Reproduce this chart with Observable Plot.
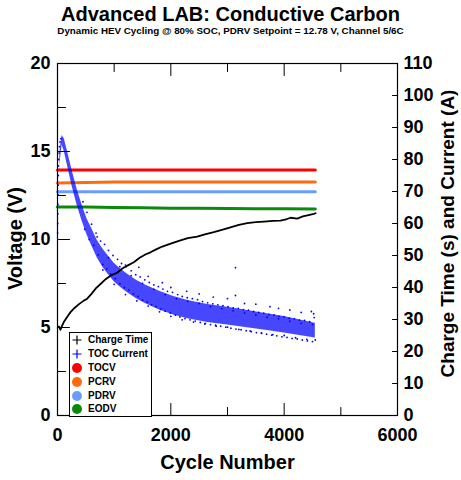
<!DOCTYPE html>
<html><head><meta charset="utf-8">
<script src="https://cdn.jsdelivr.net/npm/d3@7"></script>
<script src="https://cdn.jsdelivr.net/npm/@observablehq/plot@0.6"></script>
<style>
body{margin:0;background:#fff;font-family:"Liberation Sans",Arial,sans-serif;color:#000;}
#wrap{position:relative;width:461px;height:480px;overflow:hidden;}
#head{position:relative;height:45px;}
#title{position:absolute;left:0;width:461px;top:4px;text-align:center;font-weight:bold;font-size:20px;line-height:20px;white-space:nowrap;}
#sub{position:absolute;left:0;width:461px;top:26px;text-align:center;font-weight:bold;font-size:9.8px;line-height:10px;white-space:nowrap;}
#legend{position:absolute;left:69px;top:332px;width:81px;height:83px;border:1px solid #000;background:#fff;font-weight:bold;font-size:10px;}
.row{position:absolute;left:0;width:81px;height:14px;}
.row svg{position:absolute;left:1px;top:1px;}
.row span{position:absolute;left:18px;top:0;line-height:14px;white-space:nowrap;}
#chart svg{display:block;}
</style>
</head><body>
<div id="wrap">
  <div id="head">
    <div id="title">Advanced LAB: Conductive Carbon</div>
    <div id="sub">Dynamic HEV Cycling @ 80% SOC, PDRV Setpoint = 12.78 V, Channel 5/6C</div>
  </div>
  <div id="chart"></div>
  <div id="legend"></div>
</div>
<script>
// ---- data ----
const xTickLabels = [0, 2000, 4000, 6000];
const xTicksAll = [0, 1000, 2000, 3000, 4000, 5000, 6000];
const yTickLabels = [0, 5, 10, 15, 20];
const yTicksAll = [0, 2.5, 5, 7.5, 10, 12.5, 15, 17.5, 20];
const rightTicks = [0, 10, 20, 30, 40, 50, 60, 70, 80, 90, 100, 110];
const rightMax = 110;

// voltage lines (V)
const lineCycle = [0, 500, 1000, 1500, 2000, 2500, 3000, 3500, 4000, 4550];
const tocv = [13.95, 13.95, 13.95, 13.95, 13.95, 13.95, 13.95, 13.95, 13.95, 13.95];
const pcrv = [13.21, 13.24, 13.26, 13.27, 13.27, 13.27, 13.27, 13.27, 13.27, 13.27];
const pdrv = [12.71, 12.71, 12.71, 12.71, 12.71, 12.71, 12.71, 12.71, 12.71, 12.71];
const eodv = [11.85, 11.84, 11.82, 11.80, 11.78, 11.77, 11.76, 11.75, 11.75, 11.74];

// charge time (s)
const chargeCycle = [5, 25, 53, 80, 111, 170, 230, 300, 380, 465, 524, 600, 680, 760, 850, 935, 1053, 1150, 1250, 1347, 1450, 1550, 1641, 1750, 1850, 1935, 2050, 2171, 2300, 2465, 2600, 2759, 2900, 3053, 3200, 3348, 3500, 3641, 3800, 3936, 4050, 4112, 4230, 4330, 4430, 4524, 4555];
const chargeTime = [27.6, 27.8, 26.8, 28.0, 29.2, 30.8, 32.3, 33.6, 34.8, 35.9, 36.5, 38.0, 39.8, 41.1, 42.6, 43.7, 44.6, 46.0, 47.0, 47.9, 49.3, 50.3, 51.0, 52.0, 52.8, 53.3, 54.0, 54.7, 55.4, 55.9, 56.6, 57.3, 58.0, 58.8, 59.6, 60.1, 60.4, 60.6, 60.8, 60.9, 61.4, 61.8, 61.5, 62.2, 62.6, 63.0, 63.2];

// TOC current dense core (A): lower / upper edge
const bandCycle = [40, 80, 120, 170, 260, 350, 440, 520, 610, 700, 800, 900, 1000, 1100, 1230, 1400, 1550, 1800, 2050, 2300, 2650, 3000, 3350, 3700, 4000, 4300, 4550];
const bandLo = [78, 84.5, 82.5, 78.5, 71.5, 65.5, 60.5, 56.5, 52.8, 49.3, 46.3, 44, 41.8, 40.2, 38.4, 36.4, 35, 33, 31.4, 30.2, 29.1, 28.3, 27.4, 26.6, 25.8, 24.9, 24.2];
const bandHi = [82, 87.5, 86.5, 83, 76.5, 70.5, 65.5, 61.5, 58.2, 54.8, 52, 49.8, 47.6, 46, 44.2, 42.2, 40.8, 38.8, 37.2, 35.9, 34.7, 33.8, 32.8, 31.8, 30.9, 29.8, 28.8];

// TOC current scattered points [cycle, A]
const tocScatter = [
  [2,57],[4,60],[6,63],[8,66],[10,69],[12,72],[14,75],[18,78],[22,80],[28,82],[35,84],[45,85.5],[60,86.5],
  [450,66.8],[480,58.2],[520,63.5],[560,55],[600,59.8],[640,53.2],[680,57],[720,50.2],[760,54.5],[800,47.2],
  [830,53.5],[870,45.8],[900,51.6],[940,44.2],[980,50],[1020,42.8],[1060,48.8],[1100,41.2],[1130,47.5],[1180,40],
  [1210,46.5],[1260,39.2],[1300,45.2],[1340,38],[1380,44],[1420,37.2],[1460,43.3],[1500,36.1],[1540,42.4],[1580,35.5],
  [1620,41.6],[1660,34.6],[1700,40.8],[1740,34],[1780,40.3],[1820,33.2],[1860,39.5],[1900,32.6],[1940,38.8],[1990,32],
  [2030,38.5],[2080,31.4],[2120,37.8],[2160,30.8],[2200,37.2],[2250,30.3],[2290,36.8],[2340,29.9],[2380,36.5],[2430,29.5],
  [2470,36.2],[2520,29.1],[2560,35.6],[2610,28.8],[2650,35.2],[2700,28.4],[2740,34.9],[2790,28.2],[2830,34.6],[2880,27.9],
  [2920,34.3],[2970,27.6],[3010,34],[3060,27.3],[3100,33.6],[3150,27],[3190,33.5],[3240,26.8],[3280,33.1],[3330,26.5],
  [3370,32.9],[3420,26.2],[3460,32.5],[3510,25.9],[3550,32.2],[3600,25.7],[3640,32],[3690,25.4],[3730,31.6],[3780,25.1],
  [3820,31.4],[3870,24.9],[3910,31],[3960,24.6],[4000,30.8],[4050,24.4],[4090,30.4],[4140,24.1],[4180,30.2],[4230,23.9],
  [4270,29.8],[4320,23.6],[4360,29.7],[4410,23.3],[4450,29.3],[4500,23.1],[4530,30.6],[4550,23.6],
  [1200,47],[1435,46.3],[1600,43.5],[1850,41.5],[2000,40],[2280,38.8],[2500,38],[2750,37],[3000,36.5],[3141,46.2],
  [3141,37.5],[3300,35],[3500,34.8],[3750,34],[3900,33.5],[4100,33],[4300,32.2],[4480,32.5],[4520,31.8],
  [700,55.8],[900,49.3],[1100,46.5],[1300,43.7],[1500,41.3],[1700,39.4],[1900,37.8],[2100,36.5],[2300,35.7],[2500,35],
  [2700,34.1],[2900,33.4],[3100,32.7],[3300,32],[3500,31.4],[3700,30.7],[3900,30.2],[4100,29.4],[4300,28.8],[4500,28.4],
  [800,45.5],[1000,41],[1200,37.8],[1400,35.8],[1600,34.2],[1800,32.4],[2000,31],[2200,29.9],[2400,29.2],[2600,28.6],
  [2800,27.9],[3000,27.6],[3200,26.9],[3400,26.4],[3600,25.8],[3800,25.3],[4000,25],[4200,24.3],[4400,23.8]
];

// legend
const legendNames = ["Charge Time", "TOC Current", "TOCV", "PCRV", "PDRV", "EODV"];
const legendColors = ["#000000", "#0000ff", "#ff0000", "#ff6a10", "#6c9cff", "#0a8a0a"];
const legendShapes = ["plus", "plus", "circle", "circle", "circle", "circle"];

// ---- build ----
const k = 20 / rightMax; // right-axis units -> voltage-axis units
const lineData = (vals) => lineCycle.map((c, i) => ({c, v: vals[i]}));
const charge = chargeCycle.map((c, i) => ({c, v: chargeTime[i] * k}));
const band = bandCycle.map((c, i) => ({c, lo: bandLo[i] * k, hi: bandHi[i] * k}));
const scatter = tocScatter.map(([c, a]) => ({c, v: a * k}));

const tickShape = {draw(ctx, l) { ctx.moveTo(0, 0); ctx.lineTo(0, -l); }};
const font = "Liberation Sans, Arial, sans-serif";

const plot = Plot.plot({
  width: 461, height: 435,
  marginTop: 18, marginBottom: 65, marginLeft: 57, marginRight: 64,
  x: {domain: [0, 6000]},
  y: {domain: [0, 20]},
  style: {fontFamily: font, fontWeight: "bold", fontSize: "18px", color: "#000", background: "transparent", overflow: "visible"},
  marks: [
    Plot.line(lineData(tocv), {x: "c", y: "v", stroke: legendColors[2], strokeWidth: 3}),
    Plot.line(lineData(pcrv), {x: "c", y: "v", stroke: legendColors[3], strokeWidth: 3}),
    Plot.line(lineData(pdrv), {x: "c", y: "v", stroke: legendColors[4], strokeWidth: 3}),
    Plot.line(lineData(eodv), {x: "c", y: "v", stroke: legendColors[5], strokeWidth: 3}),
    Plot.areaY(band, {x: "c", y1: "lo", y2: "hi", fill: "#0000ff", fillOpacity: 0.72}),
    Plot.dot(scatter, {x: "c", y: "v", r: 0.9, fill: "#0000ff"}),
    Plot.line(charge, {x: "c", y: "v", stroke: "#000", strokeWidth: 1.8}),
    Plot.frame({stroke: "#000", strokeWidth: 1.2}),
    Plot.axisX({ticks: xTickLabels, tickSize: 0, tickPadding: 13, tickFormat: d => String(d), label: null}),
    Plot.axisY({anchor: "left", ticks: yTickLabels, tickSize: 0, tickPadding: 7, tickFormat: d => String(d), label: null}),
    Plot.axisY({anchor: "right", ticks: rightTicks.map(a => a * k), tickSize: 0, tickPadding: 6, tickFormat: d => String(Math.round(d / k)), label: null}),
    // inward tick marks
    Plot.vector(xTicksAll, {x: d => d, frameAnchor: "bottom", rotate: 0, anchor: "start", length: d => d % 2000 === 0 ? 6 : 4, shape: tickShape, stroke: "#000", strokeWidth: 1}),
    Plot.vector(xTicksAll, {x: d => d, frameAnchor: "top", rotate: 180, anchor: "start", length: d => d % 2000 === 0 ? 6 : 4, shape: tickShape, stroke: "#000", strokeWidth: 1}),
    Plot.vector(yTicksAll, {y: d => d, frameAnchor: "left", rotate: 90, anchor: "start", length: d => d % 5 === 0 ? 6 : 4, shape: tickShape, stroke: "#000", strokeWidth: 1}),
    Plot.vector(rightTicks.map(a => a * k), {y: d => d, frameAnchor: "right", rotate: -90, anchor: "start", length: 5, shape: tickShape, stroke: "#000", strokeWidth: 1}),
    // axis titles
    Plot.text(["Cycle Number"], {text: d => d, frameAnchor: "bottom", dy: 53, fontSize: 20, fontWeight: "bold", textAnchor: "middle"}),
    Plot.text(["Voltage (V)"], {text: d => d, frameAnchor: "left", dx: -42, dy: -1, rotate: -90, fontSize: 20, fontWeight: "bold", textAnchor: "middle"}),
    Plot.text(["Charge Time (s) and Current (A)"], {text: d => d, frameAnchor: "right", dx: 50, dy: -6, rotate: -90, fontSize: 19, fontWeight: "bold", textAnchor: "middle"})
  ]
});
document.getElementById("chart").appendChild(plot);

// legend (HTML, real text)
const leg = document.getElementById("legend");
const rowTops = [0, 14, 28, 42, 56, 69];
legendNames.forEach((name, i) => {
  const row = document.createElement("div");
  row.className = "row";
  row.style.top = rowTops[i] + "px";
  const col = legendColors[i];
  const mark = legendShapes[i] === "plus"
    ? `<svg width="12" height="12"><path d="M6,1.5V10.5M1.5,6H10.5" stroke="${col}" stroke-width="1.2"/></svg>`
    : `<svg width="12" height="12"><circle cx="6" cy="6" r="5" fill="${col}"/></svg>`;
  row.innerHTML = mark + `<span>${name}</span>`;
  leg.appendChild(row);
});
</script>
</body></html>
